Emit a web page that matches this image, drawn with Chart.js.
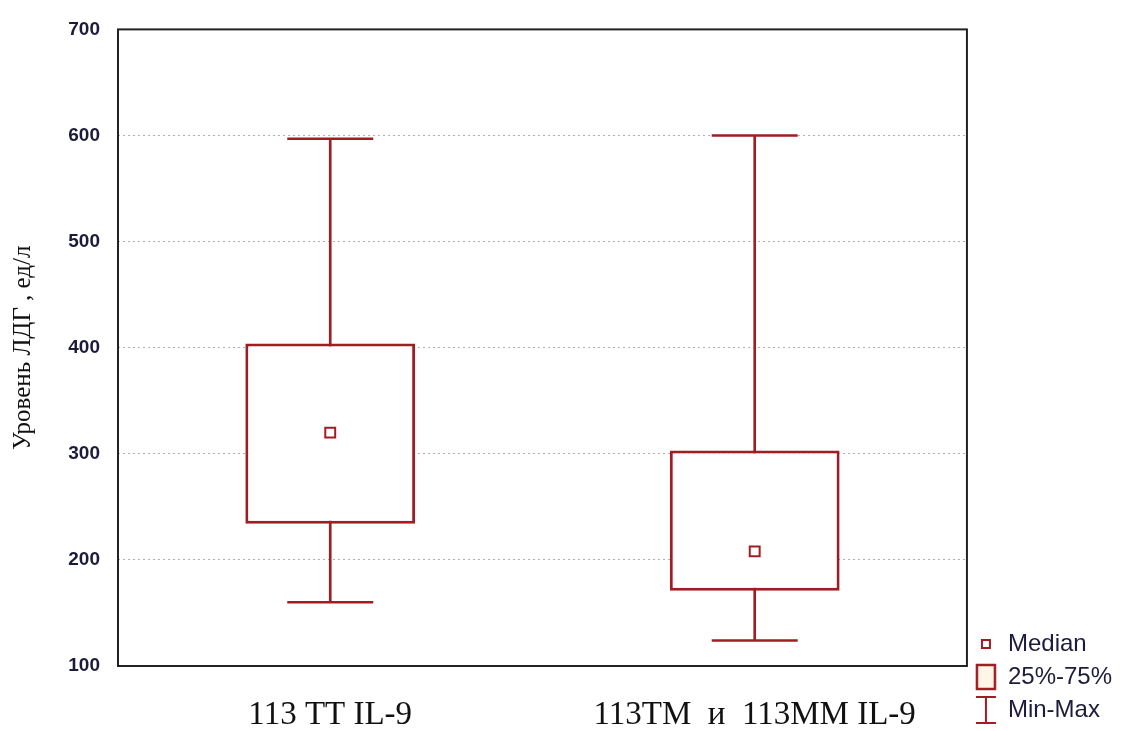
<!DOCTYPE html>
<html>
<head>
<meta charset="utf-8">
<script src="https://cdn.jsdelivr.net/npm/chart.js@4"></script>
<style>
  html, body { margin: 0; padding: 0; background: #fff; }
  #wrap { width: 1122px; height: 731px; }
</style>
</head>
<body>
<div id="wrap"><canvas id="boxChart"></canvas></div>
<script>
"use strict";

// values
const categories = ["113 TT IL-9", "113TM  и  113MM IL-9"];
const minVals = [160, 124];
const q1Vals = [234, 171];
const medianVals = [320, 208];
const q3Vals = [404, 303];
const maxVals = [597, 600];
const yTicks = [100, 200, 300, 400, 500, 600, 700];
const legendLabels = ["Median", "25%-75%", "Min-Max"];

const RED = "#9f1d23";
const TEXT = "#1c1c3a";

// little legend icons
function makeIcon(w, h, draw) {
  const c = document.createElement("canvas");
  c.width = w;
  c.height = h;
  draw(c.getContext("2d"));
  return c;
}
const medianIcon = makeIcon(12, 12, (ctx) => {
  ctx.fillStyle = "#fff";
  ctx.fillRect(1, 1, 10, 10);
  ctx.strokeStyle = RED;
  ctx.lineWidth = 2;
  ctx.strokeRect(2, 2, 8, 8);
});
const boxIcon = makeIcon(22, 28, (ctx) => {
  ctx.fillStyle = "#fff6e8";
  ctx.fillRect(1, 1, 20, 26);
  ctx.strokeStyle = RED;
  ctx.lineWidth = 2.5;
  ctx.strokeRect(2, 2, 18, 24);
});
const rangeIcon = makeIcon(22, 30, (ctx) => {
  ctx.strokeStyle = RED;
  ctx.lineWidth = 2;
  ctx.beginPath();
  ctx.moveTo(1, 2); ctx.lineTo(21, 2);
  ctx.moveTo(11, 2); ctx.lineTo(11, 28);
  ctx.moveTo(1, 28); ctx.lineTo(21, 28);
  ctx.stroke();
});
const icons = [medianIcon, boxIcon, rangeIcon];

// frame around the plot area
const frame = {
  id: "frame",
  afterDraw(chart) {
    const { ctx, chartArea: a } = chart;
    ctx.save();
    ctx.strokeStyle = "#222";
    ctx.lineWidth = 2;
    ctx.strokeRect(a.left, a.top, a.right - a.left, a.bottom - a.top);
    ctx.restore();
  },
};

const ctx = document.getElementById("boxChart").getContext("2d");
new Chart(ctx, {
  type: "bar",
  data: {
    labels: categories,
    datasets: [
      {
        type: "line",
        label: "Median",
        data: medianVals,
        showLine: false,
        pointStyle: "rect",
        pointRadius: 7,
        pointBorderWidth: 2,
        pointBackgroundColor: "#fff",
        pointBorderColor: RED,
        order: 0,
      },
      {
        label: "25%-75%",
        data: q1Vals.map((v, i) => [v, q3Vals[i]]),
        backgroundColor: "#fff",
        borderColor: RED,
        borderWidth: 3,
        borderSkipped: false,
        grouped: false,
        barPercentage: 0.4,
        categoryPercentage: 1,
        order: 1,
      },
      {
        type: "line",
        label: "max",
        data: maxVals,
        showLine: false,
        pointStyle: "line",
        pointRadius: 43,
        pointBorderWidth: 2.5,
        pointBorderColor: RED,
        order: 2,
      },
      {
        type: "line",
        label: "min",
        data: minVals,
        showLine: false,
        pointStyle: "line",
        pointRadius: 43,
        pointBorderWidth: 2.5,
        pointBorderColor: RED,
        order: 2,
      },
      {
        label: "whisker",
        data: minVals.map((v, i) => [v, maxVals[i]]),
        backgroundColor: RED,
        borderWidth: 0,
        barThickness: 2,
        grouped: false,
        order: 3,
      },
    ],
  },
  options: {
    responsive: true,
    maintainAspectRatio: false,
    animation: false,
    layout: { autoPadding: false, padding: { top: 21, right: 0, bottom: 0, left: 0 } },
    scales: {
      x: {
        offset: true,
        afterFit: (scale) => { scale.height = 65; },
        grid: { display: false, drawTicks: false },
        border: { display: false },
        ticks: {
          padding: 30,
          color: "#111",
          font: { family: "'Liberation Serif', 'Times New Roman', serif", size: 33 },
        },
      },
      y: {
        min: 100,
        max: 700,
        afterFit: (scale) => { scale.width = 118; },
        afterBuildTicks: (scale) => { scale.ticks = yTicks.map((v) => ({ value: v })); },
        grid: {
          color: "#b0b0b0",
          drawTicks: false,
        },
        border: { display: false, dash: [2, 3] },
        ticks: {
          padding: 18,
          color: TEXT,
          font: { family: "'Liberation Sans', Arial, sans-serif", size: 19, weight: "bold" },
        },
        title: {
          display: true,
          text: "Уровень ЛДГ , ед/л",
          color: "#111",
          padding: { top: 8, bottom: 0 },
          font: { family: "'Liberation Serif', 'Times New Roman', serif", size: 25 },
        },
      },
    },
    plugins: {
      tooltip: { enabled: false },
      legend: {
        position: "right",
        align: "end",
        labels: {
          usePointStyle: true,
          pointStyleWidth: 20,
          padding: 9,
          color: TEXT,
          font: { family: "'Liberation Sans', Arial, sans-serif", size: 24 },
          generateLabels: () =>
            legendLabels.map((text, i) => ({
              text: text,
              pointStyle: icons[i],
              fillStyle: "#fff",
              strokeStyle: RED,
              lineWidth: 0,
              hidden: false,
              fontColor: TEXT,
              datasetIndex: i,
            })),
        },
      },
    },
  },
  plugins: [frame],
});
</script>
</body>
</html>
